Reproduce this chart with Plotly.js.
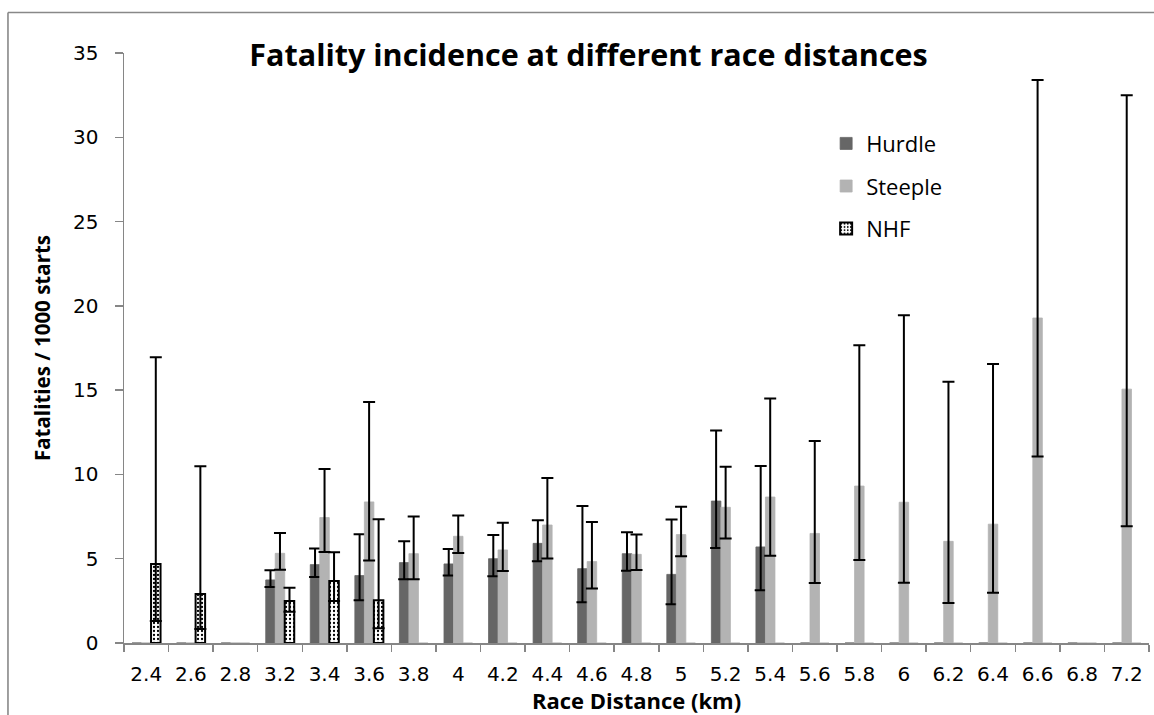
<!DOCTYPE html>
<html>
<head>
<meta charset="utf-8">
<script src="https://cdn.plot.ly/plotly-3.0.1.min.js"></script>
<style>
  html, body { margin: 0; padding: 0; background: #ffffff; }
  #chart { width: 1154px; height: 715px; }
</style>
</head>
<body>
<div id="chart"></div>
<script>
// ---- Data ----
const distances = ["2.4","2.6","2.8","3.2","3.4","3.6","3.8","4","4.2","4.4","4.6","4.8","5","5.2","5.4","5.6","5.8","6","6.2","6.4","6.6","6.8","7.2"];

const hurdle      = [0, 0, 0, 3.74, 4.65, 4.00, 4.77, 4.69, 5.00, 5.91, 4.41, 5.30, 4.07, 8.42, 5.70, 0, 0, 0, 0, 0, 0, 0, 0];
const hurdleUpper = [null, null, null, 4.31, 5.60, 6.45, 6.03, 5.58, 6.41, 7.28, 8.13, 6.57, 7.32, 12.60, 10.50, null, null, null, null, null, null, null, null];
const hurdleLower = [null, null, null, 3.32, 3.92, 2.53, 3.78, 4.00, 3.96, 4.85, 2.41, 4.29, 2.30, 5.63, 3.13, null, null, null, null, null, null, null, null];

const steeple      = [0, 0, 0, 5.32, 7.44, 8.37, 5.30, 6.33, 5.52, 7.00, 4.83, 5.26, 6.43, 8.05, 8.66, 6.50, 9.31, 8.35, 6.03, 7.05, 19.28, 0, 15.06];
const steepleUpper = [null, null, null, 6.53, 10.32, 14.30, 7.50, 7.57, 7.14, 9.79, 7.18, 6.43, 8.09, 10.46, 14.50, 11.98, 17.66, 19.45, 15.50, 16.55, 33.40, null, 32.50];
const steepleLower = [null, null, null, 4.35, 5.40, 4.90, 3.78, 5.34, 4.27, 5.02, 3.24, 4.33, 5.14, 6.20, 5.18, 3.56, 4.92, 3.57, 2.37, 2.98, 11.07, null, 6.92];

const nhf      = [4.69, 2.91, 0, 2.49, 3.68, 2.53, 0, 0, 0, 0, 0, 0, 0, 0, 0, 0, 0, 0, 0, 0, 0, 0, 0];
const nhfUpper = [16.95, 10.48, null, 3.28, 5.38, 7.34, null, null, null, null, null, null, null, null, null, null, null, null, null, null, null, null, null];
const nhfLower = [1.31, 0.83, null, 1.86, 2.49, 0.87, null, null, null, null, null, null, null, null, null, null, null, null, null, null, null, null, null];

// ---- helpers: asymmetric error lengths from the confidence limits ----
const plus  = (v, up) => v.map((x, i) => up[i] == null ? NaN : up[i] - x);
const minus = (v, lo) => v.map((x, i) => lo[i] == null ? NaN : x - lo[i]);

const errStyle = { color: '#000000', thickness: 2, width: 6 };
const FONT = '"Open Sans", Lato, sans-serif';
const TICKFONT = '"DejaVu Sans", sans-serif';

const traces = [
  {
    type: 'bar', name: 'Hurdle', x: distances, y: hurdle, legendgroup: 'h',
    marker: { color: '#666666', line: { color: '#666666', width: 0.8 } },
    error_y: Object.assign({ type: 'data', symmetric: false, array: plus(hurdle, hurdleUpper), arrayminus: minus(hurdle, hurdleLower) }, errStyle)
  },
  {
    type: 'bar', name: 'Steeple', x: distances, y: steeple, legendgroup: 's',
    marker: { color: '#b3b3b3', line: { color: '#b3b3b3', width: 0.8 } },
    error_y: Object.assign({ type: 'data', symmetric: false, array: plus(steeple, steepleUpper), arrayminus: minus(steeple, steepleLower) }, errStyle)
  },
  {
    type: 'bar', name: 'NHF', x: distances, y: nhf, legendgroup: 'n',
    marker: {
      color: '#ffffff',
      line: { color: nhf.map(v => v > 0 ? '#000000' : '#bbbbbb'), width: nhf.map(v => v > 0 ? 2 : 0.8) },
      pattern: { shape: '.', fgcolor: '#000000', bgcolor: '#ffffff', size: 4, solidity: 0.25 }
    },
    error_y: Object.assign({ type: 'data', symmetric: false, array: plus(nhf, nhfUpper), arrayminus: minus(nhf, nhfLower) }, errStyle)
  }
];

const layout = {
  width: 1154, height: 715,
  paper_bgcolor: '#ffffff', plot_bgcolor: '#ffffff',
  margin: { l: 124, r: 5, t: 53, b: 72 },
  barmode: 'group', bargap: 0.36, bargroupgap: 0,
  font: { family: FONT, color: '#000000' },
  title: {
    text: '<b>Fatality incidence at different race distances</b>',
    font: { family: FONT, size: 30.5, color: '#000000' },
    xref: 'container', yref: 'container', x: 0.51, xanchor: 'center', y: 0.922, yanchor: 'middle'
  },
  xaxis: {
    type: 'category', tickson: 'boundaries',
    ticks: 'outside', ticklen: 7, tickcolor: '#868686', tickwidth: 1.5,
    showline: true, linecolor: '#868686', linewidth: 1.5,
    showgrid: false, zeroline: false,
    tickfont: { family: TICKFONT, size: 20, color: '#000000' },
    ticklabelstandoff: 12,
    title: { text: '<b>Race Distance (km)</b>', font: { family: FONT, size: 22, color: '#000000' }, standoff: 0 }
  },
  yaxis: {
    range: [0, 35], dtick: 5,
    ticks: 'outside', ticklen: 8, tickcolor: '#868686', tickwidth: 1.5,
    showline: true, linecolor: '#868686', linewidth: 1.5,
    showgrid: false, zeroline: false,
    tickfont: { family: TICKFONT, size: 20, color: '#000000' },
    ticklabelstandoff: 12,
    title: { text: '<b>Fatalities / 1000 starts</b>', font: { family: FONT, size: 20.5, color: '#000000' }, standoff: 17 }
  },
  legend: {
    x: 0.685, xanchor: 'left', y: 0.882, yanchor: 'top',
    font: { family: FONT, size: 22, color: '#000000' },
    bgcolor: 'rgba(0,0,0,0)', traceorder: 'grouped', tracegroupgap: 11
  },
  showlegend: true,
  shapes: [
    { type: 'line', xref: 'paper', yref: 'paper', x0: -0.1132, x1: 1.06, y0: 1.0687, y1: 1.0687,
      line: { color: '#888888', width: 1.6 }, layer: 'below' },
    { type: 'line', xref: 'paper', yref: 'paper', x0: -0.1132, x1: -0.1132, y0: -0.2, y1: 1.0687,
      line: { color: '#888888', width: 1.6 }, layer: 'below' }
  ]
};

Plotly.newPlot('chart', traces, layout, { displayModeBar: false, staticPlot: true });
</script>
</body>
</html>
